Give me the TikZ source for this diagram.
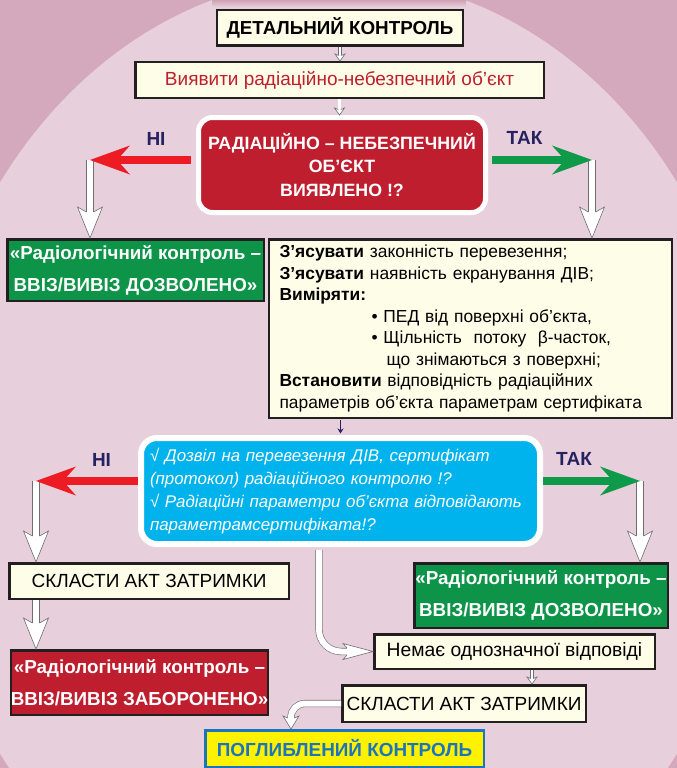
\documentclass[tikz,border=0pt]{standalone}
\usepackage{fontspec}
\setmainfont{Liberation Sans}
\usetikzlibrary{positioning,arrows.meta}

\definecolor{bgdark}{HTML}{D4A8BD}
\definecolor{bglight}{HTML}{E8CFDC}
\definecolor{bgshade}{HTML}{CDA3B6}
\definecolor{cream}{HTML}{FEFDE8}
\definecolor{ink}{HTML}{231F20}
\definecolor{alarm}{HTML}{BE1E2D}
\definecolor{arrred}{HTML}{ED1C24}
\definecolor{okgreen}{HTML}{0D9448}
\definecolor{arrgreen}{HTML}{0E9A48}
\definecolor{navy}{HTML}{262262}
\definecolor{sky}{HTML}{00B3EC}
\definecolor{deepblue}{HTML}{1C75BC}
\definecolor{canary}{HTML}{FFF200}
\definecolor{arrgray}{HTML}{6D6E71}

\begin{document}
\begin{tikzpicture}[x=1pt, y=-1pt,
    box/.style = {draw=ink, line width=2.5pt, fill=cream, inner sep=0pt, align=center, font=\fontsize{19}{23}\selectfont},
    okbox/.style = {box, fill=okgreen, text=white, font=\bfseries\fontsize{18.8}{32}\selectfont},
    banbox/.style = {okbox, fill=alarm},
    ask/.style = {draw=white, line width=5pt, rounded corners=14pt, inner sep=0pt, text=white},
    lbl/.style = {text=navy, font=\bfseries\fontsize{19}{19}\selectfont},
    bigarrow/.style = {line width=8pt, -{Stealth[length=40pt, width=29pt, inset=13pt, line width=0pt]}},
    hollow/.style = {draw=arrgray, line width=0.6pt, double=white, double distance=#1},
    hollow/.default = 6pt,
    pics/hhead/.style n args = {4}{code={
        \fill[white] (0,0) -- (-#1,#2) -- (-#1+#3,#4) -- (-#1+#3,-#4) -- (-#1,-#2) -- cycle;
        \draw[arrgray, line width=0.6pt] (-#1+#3,#4) -- (-#1,#2) -- (0,0) -- (-#1,-#2) -- (-#1+#3,-#4);
    }}
]
\useasboundingbox (0,0) rectangle (677,768);
\clip (0,0) rectangle (677,768);
\fill[bgdark] (0,0) rectangle (677,768);
\fill[bglight] (338.5,468) ellipse [x radius=416, y radius=491];
\shade[top color=bgshade, bottom color=bglight] (212,0) rectangle (466,7);

% boxes
\node (dk) [box, minimum width=246pt, minimum height=35.5pt, font=\bfseries\fontsize{18.8}{22}\selectfont] at (340,28) {ДЕТАЛЬНИЙ КОНТРОЛЬ};
\node (find) [box, minimum width=408.5pt, minimum height=35.5pt, text=alarm] at (339.5,80) {Виявити радіаційно-небезпечний об’єкт};
\node (rad) [ask, fill=alarm, minimum width=287pt, minimum height=95pt, align=center, font=\bfseries\fontsize{17.8}{23.5}\selectfont] at (342,165) {РАДІАЦІЙНО – НЕБЕЗПЕЧНИЙ\\ ОБ’ЄКТ\\ ВИЯВЛЕНО !?};
\node (ok1) [okbox, minimum width=256.5pt, minimum height=61.5pt] at (135.5,270) {«Радіологічний контроль –\\ ВВІЗ/ВИВІЗ ДОЗВОЛЕНО»};
\node (chk) [box, minimum width=402.5pt, minimum height=178.5pt, text width=382pt, inner xsep=10.5pt, align=left, font=\fontsize{17.4}{21.5}\selectfont] at (470.5,328.5) {%
\textbf{З’ясувати} законність перевезення;\\
\textbf{З’ясувати} наявність екранування ДІВ;\\
\textbf{Виміряти:}\\
\hspace*{92pt}• ПЕД від поверхні об’єкта,\\
\hspace*{92pt}• Щільність\ \ потоку\ \ β-часток,\\
\hspace*{107pt}що знімаються з поверхні;\\
\textbf{Встановити} відповідність радіаційних\\
параметрів об’єкта параметрам сертифіката};
\node (doc) [ask, line width=6pt, rounded corners=16pt, fill=sky, minimum width=399pt, minimum height=106pt, text width=381pt, inner xsep=9pt, align=left, font=\itshape\fontsize{16.9}{23}\selectfont] at (340.5,491) {%
√ Дозвіл на перевезення ДІВ, сертифікат\\
(протокол) радіаційного контролю !?\\
√ Радіаційні параметри об’єкта відповідають\\
параметрамсертифіката!?};
\node (act1) [box, minimum width=279.5pt, minimum height=35.5pt] at (149,581) {СКЛАСТИ АКТ ЗАТРИМКИ};
\node (ok2) [okbox, minimum width=253.5pt, minimum height=64.5pt] at (541,595.5) {«Радіологічний контроль –\\ ВВІЗ/ВИВІЗ ДОЗВОЛЕНО»};
\node (ban) [banbox, minimum width=256.5pt, minimum height=64.5pt] at (139.5,682.5) {«Радіологічний контроль –\\ ВВІЗ/ВИВІЗ ЗАБОРОНЕНО»};
\node (none) [box, minimum width=280.5pt, minimum height=34.5pt, font=\fontsize{19.3}{22}\selectfont] at (514.5,651.5) {Немає однозначної відповіді};
\node (act2) [box, minimum width=243.5pt, minimum height=36.5pt] at (464,703.5) {СКЛАСТИ АКТ ЗАТРИМКИ};
\node (deep) [box, draw=deepblue, fill=canary, text=deepblue, minimum width=278.5pt, minimum height=36.5pt, font=\bfseries\fontsize{18.9}{22}\selectfont] at (344.5,748.5) {ПОГЛИБЛЕНИЙ КОНТРОЛЬ};

% labels
\node (no1) [lbl] at (156,139) {НІ};
\node (yes1) [lbl] at (524.5,137.5) {ТАК};
\node (no2) [lbl] at (101.5,459.5) {НІ};
\node (yes2) [lbl] at (574,459) {ТАК};

\coordinate (noA) at (90,160);
\coordinate (yesA) at (592,160);
\coordinate (noB) at (36,481);
\coordinate (yesB) at (640,481);

% small steps
\draw[hollow=2.2pt, shorten >=5.5pt] (dk.south) -- (dk.south |- find.north);
\pic[rotate=-90] at (dk.south |- find.north) {hhead={7}{5}{1.5}{1.3}};
\draw[hollow=2.2pt, shorten >=5.5pt] (find.south) -- (find.south |- rad.north);
\pic[rotate=-90] at (find.south |- rad.north) {hhead={7}{5}{1.5}{1.3}};
\draw[navy, line width=1.3pt, shorten <=1pt, shorten >=1.5pt, -{Stealth[length=5pt, width=6pt]}] (doc.north |- chk.south) -- (doc.north);
\draw[hollow=2.2pt, shorten >=5.5pt] ([xshift=17.5pt]none.south) -- ([xshift=17.5pt]none.south |- act2.north);
\pic[rotate=-90] at ([xshift=17.5pt]none.south |- act2.north) {hhead={7}{5}{1.5}{1.3}};

% first question
\draw[hollow, shorten >=26pt] (noA) -- (noA |- ok1.north);
\pic[rotate=-90] at (noA |- ok1.north) {hhead={31}{12.5}{5}{3.6}};
\draw[hollow, shorten >=26pt] (yesA) -- (yesA |- chk.north);
\pic[rotate=-90] at (yesA |- chk.north) {hhead={31}{12.5}{5}{3.6}};
\draw[arrred, bigarrow, shorten <=5pt] (rad.west |- noA) -- (noA);
\draw[arrgreen, bigarrow, shorten <=4pt] (rad.east |- yesA) -- (yesA);

% second question
\draw[hollow, shorten >=26pt] (noB) -- (noB |- act1.north);
\pic[rotate=-90] at (noB |- act1.north) {hhead={31}{12.5}{5}{3.6}};
\draw[hollow, shorten >=26pt] (yesB) -- (yesB |- ok2.north);
\pic[rotate=-90] at (yesB |- ok2.north) {hhead={31}{12.5}{5}{3.6}};
\draw[arrred, bigarrow] (doc.west |- noB) -- (noB);
\draw[arrgreen, bigarrow] (doc.east |- yesB) -- (yesB);
\draw[hollow, shorten >=26pt] (act1.south -| noB) -- (ban.north -| noB);
\pic[rotate=-90] at (ban.north -| noB) {hhead={31}{12.5}{5}{3.6}};

% unclear answer
\draw[hollow, rounded corners=22pt, shorten <=3pt, shorten >=26pt] ([xshift=-21.5pt]doc.south) |- (none.west);
\pic at (none.west) {hhead={30}{8}{4}{3.6}};
\draw[hollow, rounded corners=14pt, shorten >=11pt] (act2.west) -| ([xshift=-53.5pt]deep.north);
\pic[rotate=-90] at ([xshift=-53.5pt]deep.north) {hhead={13}{8}{2}{3.6}};
\end{tikzpicture}
\end{document}
